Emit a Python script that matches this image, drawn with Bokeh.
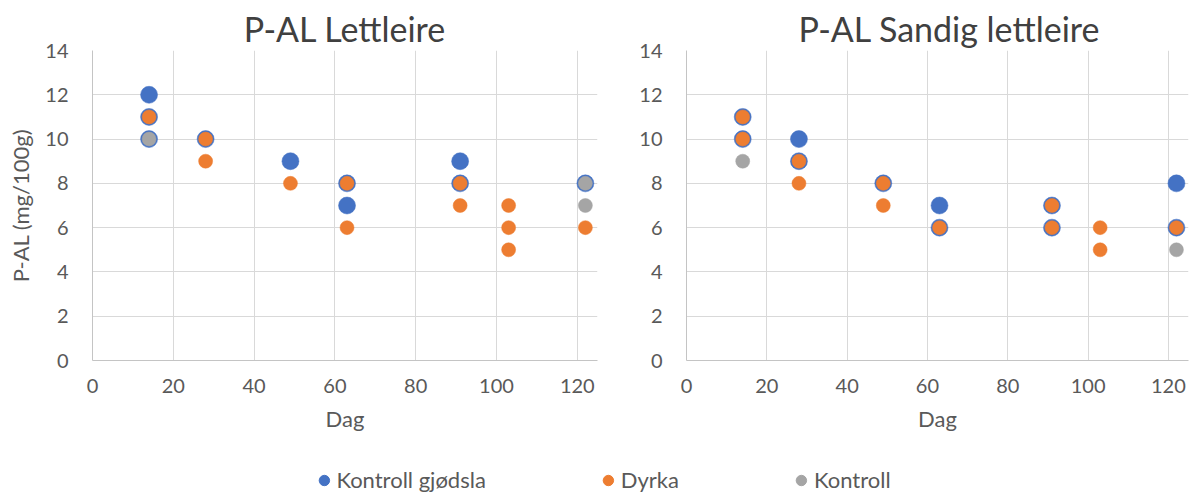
from bokeh.plotting import figure
from bokeh.layouts import column, row
from bokeh.models import Range1d, Legend, LegendItem, FixedTicker
from bokeh.embed import file_html
from bokeh.resources import INLINE

FONT = "Lato"
TEXT_GREY = "#595959"
TITLE_GREY = "#404040"
GRID = "#d9d9d9"
AXIS = "#c4c4c4"

series_names = ["Kontroll gjødsla", "Dyrka", "Kontroll"]
series_colors = ["#4472C4", "#ED7D31", "#A5A5A5"]
series_sizes = [17, 14, 14]

x_ticks = [0, 20, 40, 60, 80, 100, 120]
y_ticks = [0, 2, 4, 6, 8, 10, 12, 14]

# P-AL Lettleire
lett_gjodsla_dag = [14, 14, 14, 28, 49, 63, 63, 91, 91, 122]
lett_gjodsla_pal = [12, 11, 10, 10, 9, 8, 7, 9, 8, 8]
lett_dyrka_dag = [14, 28, 28, 49, 63, 63, 91, 91, 103, 103, 103, 122]
lett_dyrka_pal = [11, 10, 9, 8, 8, 6, 8, 7, 7, 6, 5, 6]
lett_kontroll_dag = [14, 122, 122]
lett_kontroll_pal = [10, 8, 7]

# P-AL Sandig lettleire
sand_gjodsla_dag = [14, 14, 28, 28, 49, 63, 63, 91, 91, 122, 122]
sand_gjodsla_pal = [11, 10, 10, 9, 8, 7, 6, 7, 6, 8, 6]
sand_dyrka_dag = [14, 14, 28, 28, 49, 49, 63, 91, 91, 103, 103, 122]
sand_dyrka_pal = [11, 10, 9, 8, 8, 7, 6, 7, 6, 6, 5, 6]
sand_kontroll_dag = [14, 122]
sand_kontroll_pal = [9, 5]


def panel(title, series, width, border_left, border_right, y_label,
          title_align="center", title_offset=0):
    p = figure(width=width, height=453, x_range=Range1d(0, 125), y_range=Range1d(0, 14),
               output_backend="svg", toolbar_location=None,
               min_border_left=border_left, min_border_right=border_right,
               min_border_top=50, min_border_bottom=93)
    p.outline_line_color = None
    p.background_fill_color = "white"
    p.border_fill_color = "white"

    p.title.text = title
    p.title.text_font = FONT
    p.title.text_font_size = "34px"
    p.title.text_font_style = "normal"
    p.title.text_color = TITLE_GREY
    p.title.align = title_align
    p.title.standoff = 4
    p.title.offset = title_offset

    p.xaxis.ticker = FixedTicker(ticks=x_ticks)
    p.yaxis.ticker = FixedTicker(ticks=y_ticks)
    for ax in (p.xaxis[0], p.yaxis[0]):
        ax.major_tick_line_color = None
        ax.minor_tick_line_color = None
        ax.major_tick_out = 0
        ax.major_tick_in = 0
        ax.axis_line_color = AXIS
        ax.major_label_text_font = FONT
        ax.major_label_text_font_size = "20px"
        ax.major_label_text_color = TEXT_GREY
        ax.axis_label_text_font = FONT
        ax.axis_label_text_font_size = "22px"
        ax.axis_label_text_font_style = "normal"
        ax.axis_label_text_color = TEXT_GREY
    p.xaxis.major_label_standoff = 18
    p.yaxis.major_label_standoff = 24
    p.xaxis.axis_label = "Dag"
    p.xaxis.axis_label_standoff = 9
    if y_label:
        p.yaxis.axis_label = y_label
        p.yaxis.axis_label_standoff = 8

    p.grid.grid_line_color = GRID
    p.grid.grid_line_width = 1

    for (xs, ys), color, size in zip(series, series_colors, series_sizes):
        p.scatter(xs, ys, size=size, fill_color=color, line_color=color, line_width=0.5)
    return p


left = panel("P-AL Lettleire",
             [(lett_gjodsla_dag, lett_gjodsla_pal),
              (lett_dyrka_dag, lett_dyrka_pal),
              (lett_kontroll_dag, lett_kontroll_pal)],
             600, 92, 3, "P-AL (mg/100g)")
right = panel("P-AL Sandig lettleire",
              [(sand_gjodsla_dag, sand_gjodsla_pal),
               (sand_dyrka_dag, sand_dyrka_pal),
               (sand_kontroll_dag, sand_kontroll_pal)],
              601, 86, 13, None, title_align="left", title_offset=112)

# shared legend strip under both panels; the swatch renderers sit outside
# the strip's visible range so only their legend glyphs show
lf = figure(width=1201, height=40, x_range=Range1d(0, 1), y_range=Range1d(0, 1),
            output_backend="svg", toolbar_location=None,
            x_axis_location=None, y_axis_location=None, min_border=0)
lf.grid.visible = False
lf.outline_line_color = None
items = []
for name, color in zip(series_names, series_colors):
    r = lf.scatter(x=[-5], y=[-5], size=10, fill_color=color, line_color=color)
    items.append(LegendItem(label=name, renderers=[r]))
legend = Legend(items=items, orientation="horizontal", location="bottom_center",
                glyph_width=26, glyph_height=26, label_standoff=0, spacing=109,
                padding=0, margin=0, border_line_color=None, background_fill_alpha=0,
                label_text_font=FONT, label_text_font_size="22px", label_text_color=TEXT_GREY)
lf.add_layout(legend, "center")

layout = column(row(left, right, spacing=0), lf, spacing=0)

open("out.html", "w").write(file_html(layout, INLINE))
